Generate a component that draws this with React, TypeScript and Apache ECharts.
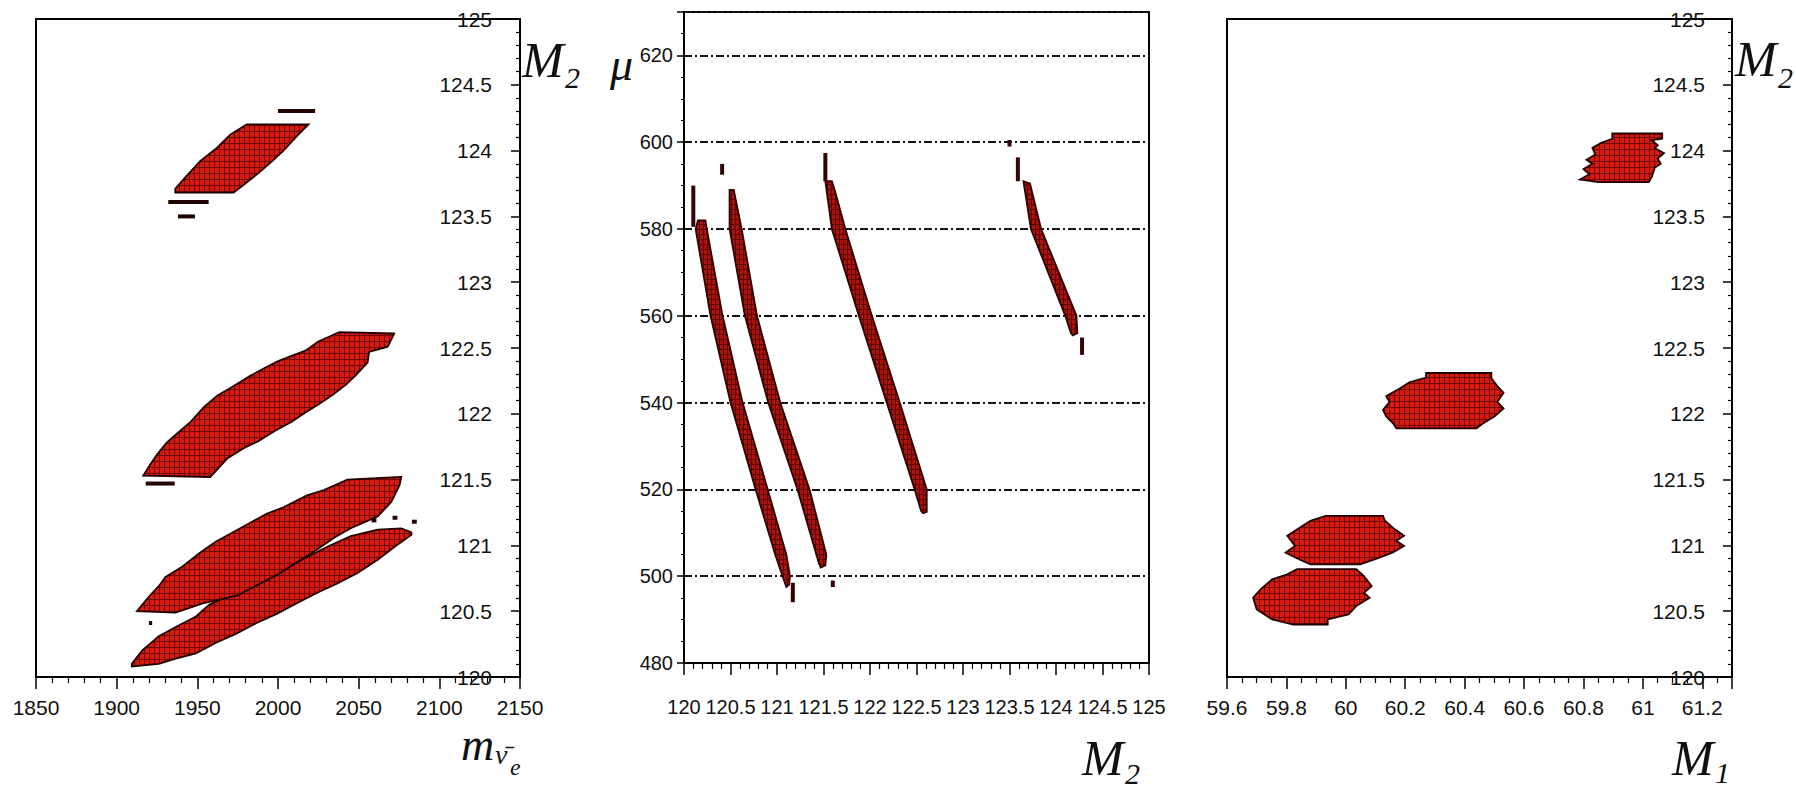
import React, { useEffect, useRef } from "react";
import * as echarts from "echarts";

// ---------------- Panel 1 : M2 vs m(sneutrino) ----------------
const P1_X_RANGE = [1850, 2150];
const P1_X_STEP = 50;
const P1_Y_RANGE = [120, 125];
const P1_Y_STEP = 0.5;

const P1_TOP_BLOB = [
  [1980.7, 124.2], [1970.4, 124.12], [1962.1, 124.02], [1951.7, 123.92], [1943.5, 123.81],
  [1936.3, 123.71], [1936.3, 123.68], [1972.5, 123.68], [1980.7, 123.76], [1989.0, 123.84],
  [1997.3, 123.93], [2003.4, 124.0], [2011.7, 124.11], [2018.9, 124.2],
];
const P1_MID_BLOB = [
  [2072, 122.61], [2038, 122.62], [2025, 122.55], [2017, 122.48], [2000, 122.4], [1992, 122.35],
  [1983, 122.29], [1971, 122.2], [1962.5, 122.14], [1954, 122.05], [1946, 121.94], [1937.5, 121.85],
  [1931, 121.78], [1925, 121.69], [1920.5, 121.61], [1916.5, 121.53], [1958, 121.52], [1968.5, 121.66],
  [1979, 121.74], [1987.5, 121.79], [1998, 121.87], [2008.5, 121.94], [2017, 122.01], [2025, 122.07],
  [2033.5, 122.14], [2042, 122.22], [2048, 122.29], [2055.5, 122.39], [2056.5, 122.47], [2068, 122.51],
];
const P1_LOW_BLOB_A = [
  [2076.4, 121.52], [2043, 121.5], [2028.4, 121.42], [2018, 121.38], [2003.4, 121.29], [1992.9, 121.24],
  [1982.5, 121.17], [1972.1, 121.1], [1961.6, 121.03], [1951.2, 120.94], [1940.8, 120.84], [1930.3, 120.76],
  [1926.1, 120.69], [1919.9, 120.61], [1912.6, 120.5], [1936.6, 120.49], [1953.3, 120.56], [1975, 120.62],
  [2000, 120.78], [2022, 120.95], [2035, 121.06], [2045.1, 121.13], [2061.8, 121.22], [2070.2, 121.33],
  [2075.4, 121.46],
];
const P1_LOW_BLOB_B = [
  [2082.7, 121.1], [2076.4, 121.13], [2061.8, 121.12], [2045.1, 121.07], [2030.5, 120.99], [1990.9, 120.74],
  [1957.5, 120.55], [1949.1, 120.46], [1936.6, 120.38], [1926.1, 120.31], [1915.7, 120.2], [1909.4, 120.1],
  [1909.4, 120.08], [1926.1, 120.1], [1936.6, 120.14], [1949.1, 120.18], [1961.6, 120.26], [1974.2, 120.33],
  [1986.7, 120.41], [1999.2, 120.48], [2011.7, 120.56], [2024.3, 120.64], [2036.8, 120.71], [2049.3, 120.79],
  [2061.8, 120.89], [2072.3, 120.99], [2082.7, 121.08],
];
// isolated histogram rows: [M2, m_start, m_end]
const P1_ROWS = [
  [124.3, 2000, 2023], [123.61, 1932, 1957], [123.5, 1938, 1948.5], [121.47, 1918, 1936],
  [121.19, 2058, 2061], [121.21, 2071, 2074], [121.18, 2083, 2086], [120.41, 1920, 1922],
];

// ---------------- Panel 2 : mu vs M2 ----------------
const P2_X_RANGE = [120, 125];
const P2_X_STEP = 0.5;
const P2_Y_RANGE = [480, 630];
const P2_Y_STEP = 20;

const P2_BAND_1 = [
  [120.15, 582], [120.125, 580], [120.285, 560], [120.5, 540], [120.77, 520], [120.98, 505], [121.06, 500],
  [121.1, 497.5], [121.13, 498], [121.14, 500], [121.1, 505], [120.9, 520], [120.63, 540], [120.415, 560],
  [120.245, 580], [120.23, 582],
];
const P2_BAND_2 = [
  [120.49, 589], [120.49, 580], [120.655, 560], [120.905, 540], [121.22, 520], [121.45, 503], [121.47, 502],
  [121.52, 502.5], [121.53, 505], [121.35, 520], [121.035, 540], [120.785, 560], [120.62, 580], [120.535, 589],
];
const P2_BAND_3 = [
  [121.52, 591], [121.59, 580], [121.88, 560], [122.18, 540], [122.48, 520], [122.55, 515], [122.57, 514.5],
  [122.61, 514.8], [122.61, 520], [122.32, 540], [122.02, 560], [121.735, 580], [121.62, 589], [121.59, 591],
];
const P2_BAND_4 = [
  [123.65, 591], [123.73, 580], [124.1, 560], [124.16, 556], [124.18, 555.5],
  [124.23, 556], [124.22, 560], [123.84, 580], [123.72, 590.5],
];
// isolated thin vertical pieces: [M2, mu_start, mu_end]
const P2_SPIKES = [
  [120.1, 580.5, 590], [121.17, 494, 498.5], [120.41, 592.5, 595], [121.6, 497.5, 499],
  [121.52, 591, 597.5], [123.59, 591, 596.5], [123.5, 599, 600.5], [124.28, 551, 555],
];

// ---------------- Panel 3 : M2 vs M1 ----------------
const P3_X_RANGE = [59.6, 61.3];
const P3_X_STEP = 0.2;
const P3_Y_RANGE = [120, 125];
const P3_Y_STEP = 0.5;

const P3_TOP_BLOB = [
  [60.897, 124.13], [61.065, 124.13], [61.065, 124.09], [61.03, 124.08], [61.05, 124.04], [61.04, 124.02],
  [61.071, 123.98], [61.05, 123.94], [61.06, 123.9], [61.04, 123.87], [61.03, 123.8], [61.02, 123.76],
  [60.85, 123.76], [60.788, 123.78], [60.82, 123.82], [60.8, 123.86], [60.83, 123.9], [60.81, 123.93],
  [60.84, 123.97], [60.83, 124.02], [60.86, 124.06], [60.897, 124.09],
];
const P3_MID_BLOB = [
  [60.27, 122.31], [60.49, 122.31], [60.49, 122.27], [60.51, 122.21], [60.531, 122.16], [60.51, 122.09],
  [60.531, 122.04], [60.5, 121.98], [60.46, 121.925], [60.44, 121.89], [60.17, 121.89], [60.16, 121.925],
  [60.136, 121.98], [60.125, 122.03], [60.147, 122.09], [60.136, 122.135], [60.18, 122.19], [60.214, 122.24],
  [60.27, 122.275],
];
const P3_LOW_BLOB_A = [
  [59.932, 121.225], [60.125, 121.225], [60.132, 121.187], [60.164, 121.124], [60.196, 121.073],
  [60.17, 121.035], [60.196, 120.996], [60.157, 120.945], [60.099, 120.895], [60.048, 120.856],
  [59.881, 120.856], [59.842, 120.895], [59.797, 120.945], [59.829, 120.996], [59.803, 121.073],
  [59.855, 121.149], [59.881, 121.187],
];
const P3_LOW_BLOB_B = [
  [59.836, 120.82], [60.035, 120.82], [60.061, 120.767], [60.087, 120.691], [60.061, 120.64],
  [60.08, 120.602], [60.035, 120.539], [60.009, 120.475], [59.939, 120.437], [59.939, 120.399],
  [59.823, 120.399], [59.752, 120.437], [59.7, 120.513], [59.688, 120.602], [59.713, 120.666],
  [59.752, 120.742], [59.803, 120.78],
];

// ---------------- styling ----------------
const LABEL_FONT = "'Liberation Sans', Arial, Helvetica, sans-serif";
const SERIF = "'Liberation Serif', 'DejaVu Serif', serif";
const BLOB_FILL = "#c8150c";
const BLOB_EDGE = "#220101";
const BAND_FILL = "#990f0b";
const BAND_EDGE = "#2e0303";

function makeCellPattern(base: string, line: string, w: number, h: number): any {
  try {
    const c = document.createElement("canvas");
    c.width = w;
    c.height = h;
    const ctx = c.getContext("2d");
    if (!ctx) return null;
    ctx.fillStyle = base;
    ctx.fillRect(0, 0, w, h);
    ctx.fillStyle = line;
    ctx.fillRect(w - 1, 0, 1, h);
    ctx.fillRect(0, h - 1, w, 1);
    return { image: c.toDataURL(), repeat: "repeat", imageWidth: w, imageHeight: h };
  } catch (e) {
    return null;
  }
}

function polygonSeries(axisIdx: number, pts: number[][], fill: string, stroke: string, pattern: any): any {
  return {
    type: "custom",
    coordinateSystem: "cartesian2d",
    xAxisIndex: axisIdx,
    yAxisIndex: axisIdx,
    silent: true,
    clip: true,
    data: pts,
    encode: { x: 0, y: 1 },
    renderItem: (params: any, api: any) => {
      if (params.dataIndex !== 0) return null;
      const points = pts.map((p) => api.coord(p));
      const children: any[] = [
        { type: "polygon", shape: { points }, style: { fill, stroke: "none" } },
      ];
      if (pattern) {
        children.push({ type: "polygon", shape: { points }, style: { fill: pattern, stroke: "none", opacity: 0.85 } });
      }
      children.push({
        type: "polygon",
        shape: { points },
        style: { fill: "none", stroke, lineWidth: 1.8, lineJoin: "miter" },
      });
      return { type: "group", children };
    },
  };
}

function rowSeries(axisIdx: number, rows: number[][]): any {
  return {
    type: "custom",
    coordinateSystem: "cartesian2d",
    xAxisIndex: axisIdx,
    yAxisIndex: axisIdx,
    silent: true,
    data: rows,
    encode: { x: [1, 2], y: 0 },
    renderItem: (params: any, api: any) => {
      const a = api.coord([api.value(1), api.value(0)]);
      const b = api.coord([api.value(2), api.value(0)]);
      return {
        type: "rect",
        shape: { x: a[0], y: a[1] - 2, width: Math.max(2, b[0] - a[0]), height: 4 },
        style: { fill: BLOB_EDGE },
      };
    },
  };
}

function spikeSeries(axisIdx: number, rows: number[][]): any {
  return {
    type: "custom",
    coordinateSystem: "cartesian2d",
    xAxisIndex: axisIdx,
    yAxisIndex: axisIdx,
    silent: true,
    data: rows,
    encode: { x: 0, y: [1, 2] },
    renderItem: (params: any, api: any) => {
      const a = api.coord([api.value(0), api.value(2)]);
      const b = api.coord([api.value(0), api.value(1)]);
      return {
        type: "rect",
        shape: { x: a[0] - 2, y: a[1], width: 4, height: Math.max(2, b[1] - a[1]) },
        style: { fill: "#320404" },
      };
    },
  };
}

const axisLineStyle = { show: true, onZero: false, lineStyle: { color: "#000", width: 2 } };
const labelBase = { fontFamily: LABEL_FONT, fontSize: 21, color: "#111" };

function xAxis(grid: number, range: number[], step: number, minorSplit: number, margin: number, fontSize: number, hideMax: boolean): any {
  return {
    type: "value",
    gridIndex: grid,
    min: range[0],
    max: range[1],
    interval: step,
    axisLine: axisLineStyle,
    axisTick: { show: true, length: 12, lineStyle: { color: "#000", width: 1.5 } },
    minorTick: { show: true, splitNumber: minorSplit, length: 6, lineStyle: { color: "#000", width: 1.2 } },
    axisLabel: {
      ...labelBase,
      fontSize,
      margin,
      interval: 0,
      showMinLabel: true,
      showMaxLabel: !hideMax,
      formatter: (v: number) => String(Math.round(v * 100) / 100),
    },
    splitLine: { show: false },
  };
}

function rightYAxis(grid: number, margin: number): any {
  return {
    type: "value",
    gridIndex: grid,
    position: "right",
    min: P1_Y_RANGE[0],
    max: P1_Y_RANGE[1],
    interval: P1_Y_STEP,
    axisLine: axisLineStyle,
    axisTick: { show: true, inside: true, length: 9, lineStyle: { color: "#000", width: 1.5 } },
    minorTick: { show: true, splitNumber: 5, length: 4, lineStyle: { color: "#000", width: 1.2 } },
    axisLabel: { ...labelBase, inside: true, margin, showMinLabel: true, showMaxLabel: true },
    splitLine: { show: false },
  };
}

function titleText(text: string, x: number, y: number, size: number): any {
  return {
    type: "text",
    x,
    y,
    style: {
      text,
      fontFamily: SERIF,
      fontStyle: "italic",
      fontSize: size,
      fill: "#111",
      align: "left",
      verticalAlign: "middle",
    },
  };
}

export default function App() {
  const ref = useRef<HTMLDivElement>(null);

  useEffect(() => {
    if (!ref.current) return;
    const chart = echarts.init(ref.current, undefined, { renderer: "svg" });
    const blobPattern = makeCellPattern("#dc190e", "#5e0805", 5, 6);
    const bandPattern = makeCellPattern("#ad130c", "#4e0505", 4, 5);
    const gridStyle = { show: true, borderColor: "#000", borderWidth: 2, backgroundColor: "transparent" };
    const option: any = {
      animation: false,
      backgroundColor: "#fff",
      grid: [
        { ...gridStyle, left: 36, top: 19, width: 484, height: 658 },
        { ...gridStyle, left: 684, top: 12, width: 465, height: 651 },
        { ...gridStyle, left: 1227, top: 19, width: 505, height: 658 },
      ],
      xAxis: [
        xAxis(0, P1_X_RANGE, P1_X_STEP, 5, 20, 21, false),
        xAxis(1, P2_X_RANGE, P2_X_STEP, 5, 34, 20, false),
        xAxis(2, P3_X_RANGE, P3_X_STEP, 4, 20, 21, true),
      ],
      yAxis: [
        rightYAxis(0, 28),
        {
          type: "value",
          gridIndex: 1,
          position: "left",
          min: P2_Y_RANGE[0],
          max: P2_Y_RANGE[1],
          interval: P2_Y_STEP,
          axisLine: axisLineStyle,
          axisTick: { show: true, length: 7, lineStyle: { color: "#000", width: 1.5 } },
          minorTick: { show: true, splitNumber: 4, length: 3, lineStyle: { color: "#000", width: 1 } },
          axisLabel: { ...labelBase, fontSize: 20, margin: 11, showMinLabel: true, showMaxLabel: false },
          splitLine: { show: true, lineStyle: { color: "#111", width: 2, type: [8, 3, 2, 3] } },
        },
        rightYAxis(2, 27),
      ],
      graphic: [
        titleText("M", 522, 60, 50),
        titleText("2", 565, 77, 30),
        titleText("M", 1735, 59, 50),
        titleText("2", 1778, 77, 30),
        titleText("\u03BC", 610, 64, 46),
        titleText("M", 1082, 758, 50),
        titleText("2", 1125, 773, 30),
        titleText("M", 1672, 758, 50),
        titleText("1", 1715, 772, 30),
        titleText("m", 461, 744, 46),
        titleText("\u03BD\u0304", 495, 754, 28),
        titleText("e", 510, 767, 24),
      ],
      series: [
        polygonSeries(0, P1_TOP_BLOB, BLOB_FILL, BLOB_EDGE, blobPattern),
        polygonSeries(0, P1_MID_BLOB, BLOB_FILL, BLOB_EDGE, blobPattern),
        polygonSeries(0, P1_LOW_BLOB_B, BLOB_FILL, BLOB_EDGE, blobPattern),
        polygonSeries(0, P1_LOW_BLOB_A, BLOB_FILL, BLOB_EDGE, blobPattern),
        rowSeries(0, P1_ROWS),
        polygonSeries(1, P2_BAND_1, BAND_FILL, BAND_EDGE, bandPattern),
        polygonSeries(1, P2_BAND_2, BAND_FILL, BAND_EDGE, bandPattern),
        polygonSeries(1, P2_BAND_3, BAND_FILL, BAND_EDGE, bandPattern),
        polygonSeries(1, P2_BAND_4, BAND_FILL, BAND_EDGE, bandPattern),
        spikeSeries(1, P2_SPIKES),
        polygonSeries(2, P3_TOP_BLOB, BLOB_FILL, BLOB_EDGE, blobPattern),
        polygonSeries(2, P3_MID_BLOB, BLOB_FILL, BLOB_EDGE, blobPattern),
        polygonSeries(2, P3_LOW_BLOB_B, BLOB_FILL, BLOB_EDGE, blobPattern),
        polygonSeries(2, P3_LOW_BLOB_A, BLOB_FILL, BLOB_EDGE, blobPattern),
      ],
    };
    chart.setOption(option);
    return () => chart.dispose();
  }, []);

  return (
    <div
      ref={ref}
      style={{ position: "fixed", left: 0, top: 0, width: 1796, height: 790, background: "#fff" }}
    />
  );
}
